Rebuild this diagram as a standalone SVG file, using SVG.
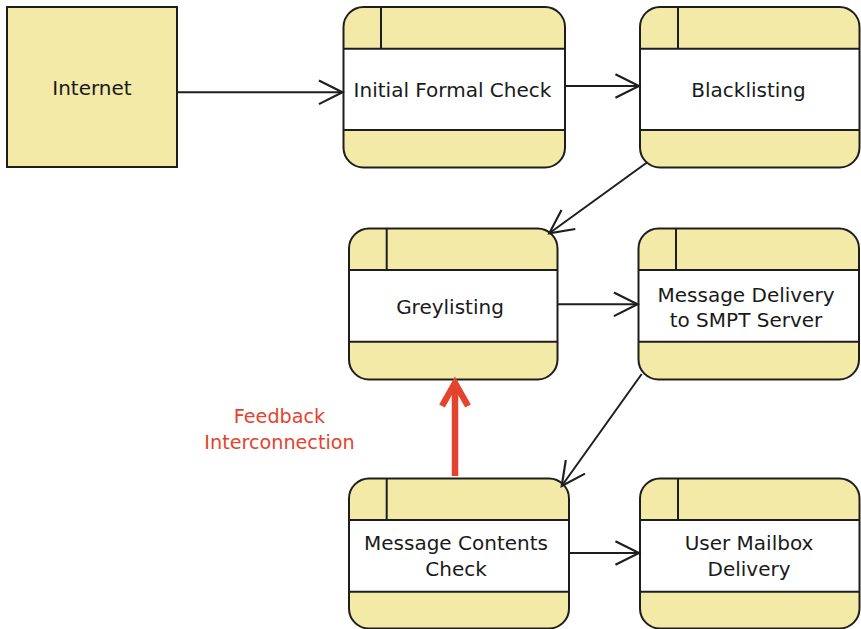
<svg xmlns="http://www.w3.org/2000/svg" width="861" height="629" viewBox="0 0 861 629">
  <style>
    .shell { fill: #F4EAA8; stroke: none; }
    .band { fill: #FFFFFF; stroke: none; }
    .rule { stroke: #1E1E1E; stroke-width: 2; fill: none; }
    .frame { fill: none; stroke: #1E1E1E; stroke-width: 2; }
    .label { font-family: "DejaVu Sans", "Liberation Sans", sans-serif; font-size: 20px; fill: #1A1A1A; text-anchor: middle; }
    .note { font-family: "DejaVu Sans", "Liberation Sans", sans-serif; font-size: 19.2px; fill: #E4432E; text-anchor: middle; }
    .flow { stroke: #1E1E1E; stroke-width: 2; fill: none; marker-end: url(#open); }
    .feedback { stroke: #E4432E; stroke-width: 6.5; fill: none; marker-end: url(#openRed); }
  </style>
  <defs>
    <marker id="open" markerUnits="userSpaceOnUse" markerWidth="30" markerHeight="30" viewBox="-2 -2 28 28" refX="22" refY="11" orient="auto">
      <path d="M0,0 L22,11 L0,22" fill="none" stroke="#1E1E1E" stroke-width="2"/>
    </marker>
    <marker id="openRed" markerUnits="userSpaceOnUse" markerWidth="40" markerHeight="40" viewBox="-6 -6 40 40" refX="20" refY="13" orient="auto">
      <path d="M0,0 L23,13 L0,26" fill="none" stroke="#E4432E" stroke-width="6.5" stroke-linejoin="miter"/>
    </marker>
  </defs>

  <!-- external entity -->
  <g id="internet">
    <rect x="7" y="7" width="170" height="160" fill="#F4EAA8" stroke="#1E1E1E" stroke-width="2"/>
    <text class="label" x="92" y="94.5">Internet</text>
  </g>

  <!-- process steps -->
  <g id="initial-formal-check">
    <rect class="shell" x="343.5" y="7" width="221.5" height="160.5" rx="20"/>
    <rect class="band" x="343.5" y="48.7" width="221.5" height="81.3"/>
    <path class="rule" d="M343.5,48.7 H565 M343.5,130 H565 M381,7 V48.7"/>
    <rect class="frame" x="343.5" y="7" width="221.5" height="160.5" rx="20"/>
    <text class="label" x="452.5" y="96.5">Initial Formal Check</text>
  </g>

  <g id="blacklisting">
    <rect class="shell" x="640" y="7" width="219.5" height="160.5" rx="20"/>
    <rect class="band" x="640" y="48.7" width="219.5" height="81.3"/>
    <path class="rule" d="M640,48.7 H859.5 M640,130 H859.5 M678,7 V48.7"/>
    <rect class="frame" x="640" y="7" width="219.5" height="160.5" rx="20"/>
    <text class="label" x="748.5" y="96.5">Blacklisting</text>
  </g>

  <g id="greylisting">
    <rect class="shell" x="349" y="228.5" width="208.5" height="151" rx="20"/>
    <rect class="band" x="349" y="270" width="208.5" height="71.7"/>
    <path class="rule" d="M349,270 H557.5 M349,341.7 H557.5 M386.7,228.5 V270"/>
    <rect class="frame" x="349" y="228.5" width="208.5" height="151" rx="20"/>
    <text class="label" x="450" y="313.5">Greylisting</text>
  </g>

  <g id="message-delivery">
    <rect class="shell" x="638.5" y="228.5" width="220.5" height="151" rx="20"/>
    <rect class="band" x="638.5" y="270" width="220.5" height="71.7"/>
    <path class="rule" d="M638.5,270 H859 M638.5,341.7 H859 M676,228.5 V270"/>
    <rect class="frame" x="638.5" y="228.5" width="220.5" height="151" rx="20"/>
    <text class="label" x="746" y="301.5">Message Delivery</text>
    <text class="label" x="746" y="326.5">to SMPT Server</text>
  </g>

  <g id="message-contents-check">
    <rect class="shell" x="349" y="478.5" width="220" height="150" rx="20"/>
    <rect class="band" x="349" y="520" width="220" height="71.7"/>
    <path class="rule" d="M349,520 H569 M349,591.7 H569 M386.7,478.5 V520"/>
    <rect class="frame" x="349" y="478.5" width="220" height="150" rx="20"/>
    <text class="label" x="456" y="550">Message Contents</text>
    <text class="label" x="456" y="575.5">Check</text>
  </g>

  <g id="user-mailbox-delivery">
    <rect class="shell" x="640" y="478.5" width="219.5" height="150" rx="20"/>
    <rect class="band" x="640" y="520" width="219.5" height="71.7"/>
    <path class="rule" d="M640,520 H859.5 M640,591.7 H859.5 M678,478.5 V520"/>
    <rect class="frame" x="640" y="478.5" width="219.5" height="150" rx="20"/>
    <text class="label" x="749" y="550">User Mailbox</text>
    <text class="label" x="749" y="575.5">Delivery</text>
  </g>

  <!-- data flows -->
  <g id="connectors">
    <path class="flow" d="M177,92.3 H342.5"/>
    <path class="flow" d="M565,86 H639"/>
    <path class="flow" d="M647.3,162.3 L549.3,233.3"/>
    <path class="flow" d="M557.5,304.3 H637.5"/>
    <path class="flow" d="M641.7,374 L561.7,486"/>
    <path class="flow" d="M569,553 H639"/>
    <path class="feedback" d="M455,476 V386"/>
  </g>

  <g id="feedback-label">
    <text class="note" x="279.5" y="422.5">Feedback</text>
    <text class="note" x="279.5" y="449">Interconnection</text>
  </g>
</svg>
